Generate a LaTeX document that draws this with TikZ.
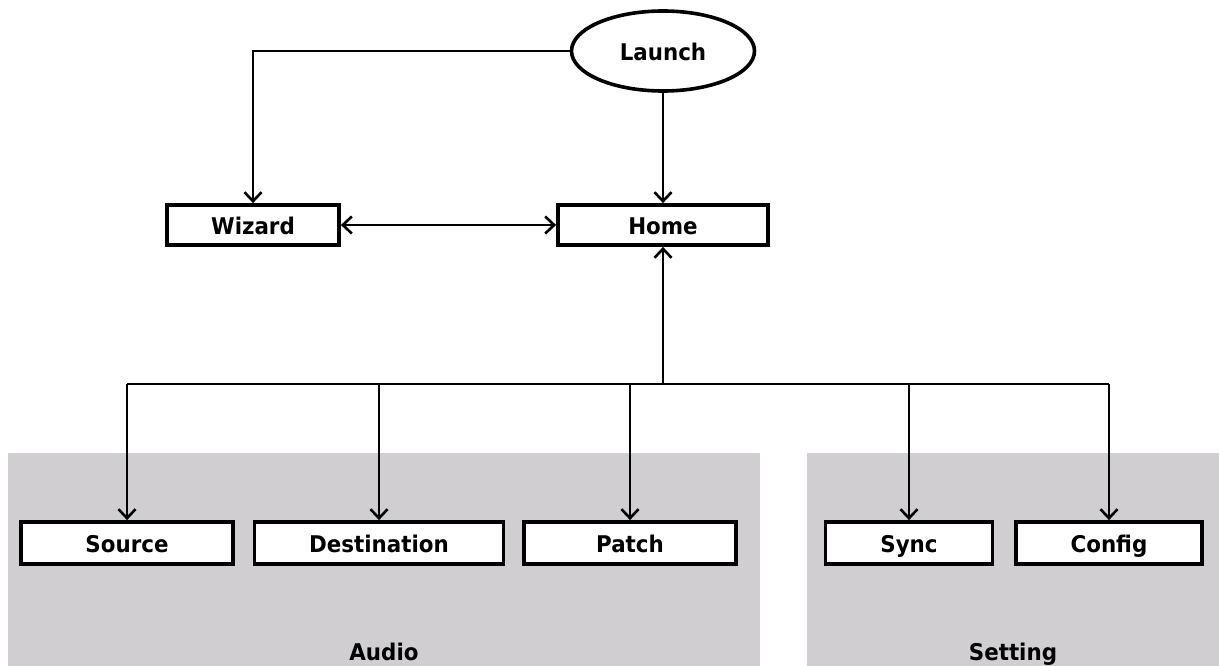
\documentclass[tikz,border=0pt]{standalone}
\usepackage{fontspec}
\setmainfont{DejaVu Sans}[FakeStretch=0.93]
\usetikzlibrary{arrows.meta,shapes.geometric}
\definecolor{panelgray}{RGB}{208,206,208}
\begin{document}
\begin{tikzpicture}[x=1pt,y=-1pt,
  lbl/.style={font=\fontsize{23}{26}\selectfont\bfseries,text height=19pt,text depth=0pt},
  box/.style={draw=black,fill=white,line width=3.8pt,inner sep=0pt,lbl},
  panel/.style={fill=panelgray,draw=none},
  conn/.style={line width=2.8pt},
  arr/.style={conn,-{Straight Barb[length=9pt,width=17pt,line width=2.6pt]}},
  darr/.style={conn,{Straight Barb[length=9pt,width=17pt,line width=2.6pt]}-{Straight Barb[length=9pt,width=17pt,line width=2.6pt]}}]
\useasboundingbox (0,0) rectangle (1219,666);
% panels
\fill[panel] (8,453) rectangle (760,666);
\fill[panel] (807,453) rectangle (1219,666);
\node[lbl] (audio) at (384,651) {Audio};
\node[lbl] (setting) at (1013,651) {Setting};
% nodes
\node[ellipse,draw=black,fill=white,line width=3.6pt,minimum width=183pt,minimum height=80pt,inner sep=0pt,lbl] (launch) at (663,51) {Launch};
\node[box,minimum width=172pt,minimum height=40pt] (wizard) at (253,225) {Wizard};
\node[box,minimum width=210pt,minimum height=40pt] (home) at (663,225) {Home};
\node[box,minimum width=212pt,minimum height=42pt] (source) at (127,543) {Source};
\node[box,minimum width=249pt,minimum height=42pt] (dest) at (379,543) {Destination};
\node[box,minimum width=212pt,minimum height=42pt] (patch) at (630,543) {Patch};
\node[box,minimum width=167pt,minimum height=42pt] (sync) at (909,543) {Sync};
\node[box,minimum width=186pt,minimum height=42pt] (config) at (1109,543) {Config};
% connectors
\draw[arr] (launch.west) -| (wizard.north);
\draw[arr] (launch.south) -- (home.north);
\draw[darr] (wizard.east) -- (home.west);
\coordinate (bus) at (663,384);
\draw[arr] (bus) -- (home.south);
\draw[conn] (bus -| source.north) -- (bus -| config.north);
\foreach \n in {source,dest,patch,sync,config}
  \draw[arr] (bus -| \n.north) -- (\n.north);
\end{tikzpicture}
\end{document}
